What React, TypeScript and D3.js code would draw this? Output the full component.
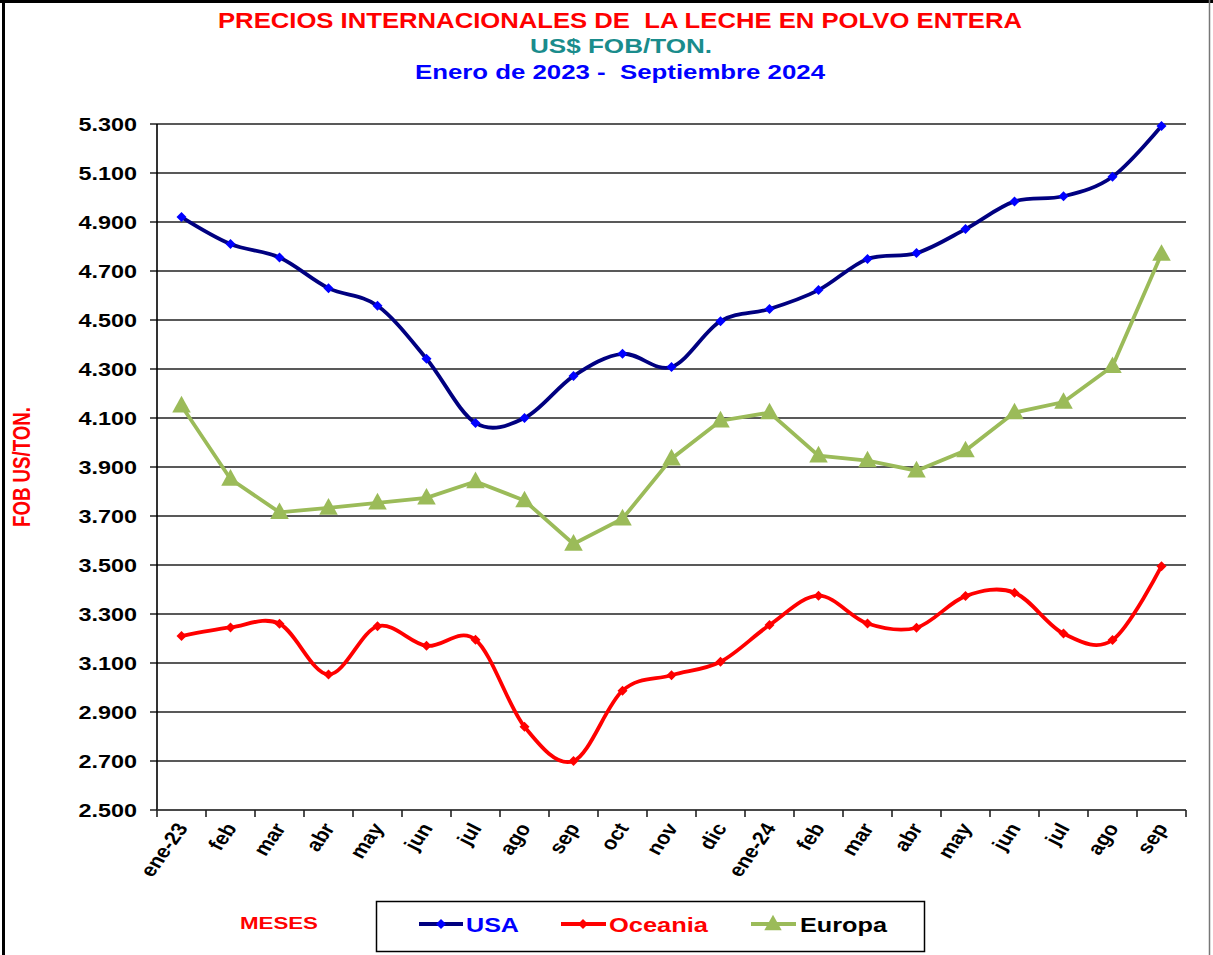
import React from "react";
import * as d3 from "d3";

const months = ["ene-23","feb","mar","abr","may","jun","jul","ago","sep","oct","nov","dic","ene-24","feb","mar","abr","may","jun","jul","ago","sep"];
const usa = [4920,4810,4755,4630,4558,4342,4080,4100,4271,4362,4308,4495,4545,4622,4749,4773,4871,4984,5005,5085,5292];
const oceania = [3210,3245,3260,3053,3250,3170,3195,2840,2700,2987,3050,3105,3255,3375,3261,3244,3373,3387,3220,3194,3495];
const europa = [4150,3851,3715,3733,3754,3774,3841,3763,3586,3689,3934,4089,4122,3946,3926,3885,3967,4122,4165,4311,4769];
const yTicks = [2500,2700,2900,3100,3300,3500,3700,3900,4100,4300,4500,4700,4900,5100,5300];
const seriesNames = ["USA","Oceania","Europa"];

const W = 1213, H = 955;
const FONT = "'Liberation Sans', Arial, sans-serif";

export default function App() {
  const x = d3.scaleBand<number>().domain(d3.range(months.length)).range([157, 1186]);
  const bw = x.bandwidth();
  const cx = (i: number) => (x(i) as number) + bw / 2;
  const y = d3.scaleLinear().domain([2500, 5300]).range([810, 124]);
  const loc = d3.formatLocale({ decimal: ",", thousands: ".", grouping: [3], currency: ["$", ""] });
  const fmt = loc.format(",.0f");

  const smooth = d3.line<number>().x((_, i) => cx(i)).y((d) => y(d)).curve(d3.curveCatmullRom.alpha(0));
  const straight = d3.line<number>().x((_, i) => cx(i)).y((d) => y(d));

  const diamond = (px: number, py: number, r: number) =>
    `M${px},${py - r}L${px + r},${py}L${px},${py + r}L${px - r},${py}Z`;
  const tri = (px: number, py: number, s: number) =>
    `M${px},${py - s * 0.62}L${px + s * 0.58},${py + s * 0.42}L${px - s * 0.58},${py + s * 0.42}Z`;

  const navy = "#000080", blue = "#0000FF", red = "#FF0000", green = "#9BBB59";

  return (
    <svg width={W} height={H} style={{ position: "absolute", left: 0, top: 0, background: "#fff" }} fontFamily={FONT}>
      <rect x={0} y={0} width={W} height={H} fill="#fff" />
      {/* frame */}
      <line x1={0} y1={1.5} x2={W} y2={1.5} stroke="#000" strokeWidth={3} />
      <line x1={3.5} y1={0} x2={3.5} y2={H} stroke="#000" strokeWidth={3} />
      <line x1={1209.5} y1={0} x2={1209.5} y2={H} stroke="#777" strokeWidth={1.5} />

      {/* titles */}
      <text x={218} y={28} fill={red} fontWeight="bold" fontSize={22} textLength={804} lengthAdjust="spacingAndGlyphs" style={{ whiteSpace: "pre" }}>PRECIOS INTERNACIONALES DE  LA LECHE EN POLVO ENTERA</text>
      <text x={530} y={53} fill="#1A8C8C" fontWeight="bold" fontSize={21} textLength={182} lengthAdjust="spacingAndGlyphs">US$ FOB/TON.</text>
      <text x={415} y={79} fill={blue} fontWeight="bold" fontSize={21} textLength={410} lengthAdjust="spacingAndGlyphs" style={{ whiteSpace: "pre" }}>Enero de 2023 -  Septiembre 2024</text>

      {/* gridlines */}
      {yTicks.map((t) => (
        <g key={t}>
          <line x1={150} x2={1186} y1={y(t)} y2={y(t)} stroke="#222" strokeWidth={1.6} />
          <text transform={`translate(137,${y(t) + 6.5}) scale(1.3,1)`} textAnchor="end" fontWeight="bold" fontSize={18} fill="#000">{fmt(t)}</text>
        </g>
      ))}
      {/* axes */}
      <line x1={157} x2={157} y1={124} y2={810} stroke="#000" strokeWidth={1.6} />
      <line x1={157} x2={1186} y1={810} y2={810} stroke="#444" strokeWidth={1.6} />
      {d3.range(months.length + 1).map((i) => (
        <line key={i} x1={157 + i * bw} x2={157 + i * bw} y1={810} y2={817} stroke="#222" strokeWidth={1.6} />
      ))}
      {months.map((m, i) => (
        <text key={i} transform={`translate(${cx(i) + 7},${828}) scale(1.2,1) rotate(-59)`} textAnchor="end" fontWeight="bold" fontSize={18.5} fill="#000">{m}</text>
      ))}

      {/* y title */}
      <text transform={`translate(30,527) scale(1.3,1) rotate(-90)`} textAnchor="start" fill={red} fontWeight="bold" fontSize={18.5} textLength={120} lengthAdjust="spacingAndGlyphs">FOB US/TON.</text>

      {/* series */}
      <path d={straight(europa) as string} fill="none" stroke={green} strokeWidth={3.8} />
      {europa.map((v, i) => <path key={i} d={tri(cx(i), y(v), 16)} fill={green} />)}
      <path d={smooth(usa) as string} fill="none" stroke={navy} strokeWidth={3.8} />
      {usa.map((v, i) => <path key={i} d={diamond(cx(i), y(v), 5)} fill={blue} />)}
      <path d={smooth(oceania) as string} fill="none" stroke={red} strokeWidth={3.8} />
      {oceania.map((v, i) => <path key={i} d={diamond(cx(i), y(v), 5)} fill={red} />)}

      {/* MESES */}
      <text x={240} y={929} fill={red} fontWeight="bold" fontSize={17} textLength={78} lengthAdjust="spacingAndGlyphs">MESES</text>

      {/* legend */}
      <rect x={376.5} y={901.5} width={548} height={50} fill="#fff" stroke="#000" strokeWidth={1.5} />
      <line x1={419} x2={463} y1={924} y2={924} stroke={navy} strokeWidth={3.8} />
      <path d={diamond(441, 924, 5)} fill={blue} />
      <text x={466} y={932} fill={blue} fontWeight="bold" fontSize={21} textLength={53} lengthAdjust="spacingAndGlyphs">{seriesNames[0]}</text>
      <line x1={561} x2={606} y1={924} y2={924} stroke={red} strokeWidth={3.8} />
      <path d={diamond(583, 924, 5)} fill={red} />
      <text x={609} y={932} fill={red} fontWeight="bold" fontSize={21} textLength={99} lengthAdjust="spacingAndGlyphs">{seriesNames[1]}</text>
      <line x1={751} x2={796} y1={924} y2={924} stroke={green} strokeWidth={3.8} />
      <path d={tri(773, 924, 15)} fill={green} />
      <text x={800} y={932} fill="#000" fontWeight="bold" fontSize={21} textLength={87} lengthAdjust="spacingAndGlyphs">{seriesNames[2]}</text>
    </svg>
  );
}
